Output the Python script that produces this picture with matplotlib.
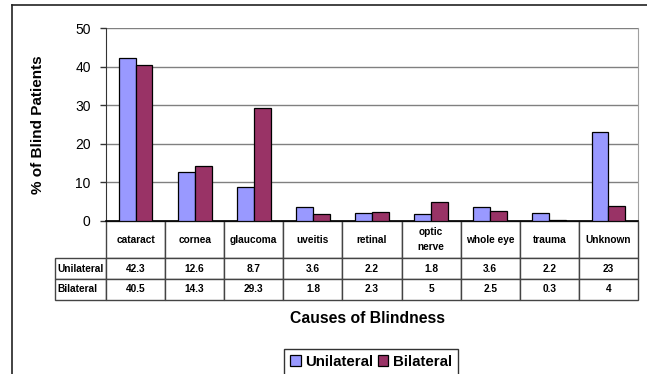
import numpy as np
import matplotlib
matplotlib.use('Agg')
import matplotlib.pyplot as plt
from matplotlib.table import Table
from matplotlib.lines import Line2D

plt.rcParams['font.family'] = ['Liberation Sans', 'DejaVu Sans']

# data
causes = ['cataract', 'cornea', 'glaucoma', 'uveitis', 'retinal',
          'optic\nnerve', 'whole eye', 'trauma', 'Unknown']
unilateral = [42.3, 12.6, 8.7, 3.6, 2.2, 1.8, 3.6, 2.2, 23]
bilateral = [40.5, 14.3, 29.3, 1.8, 2.3, 5, 2.5, 0.3, 4]
series_names = ['Unilateral', 'Bilateral']
yticks = [0, 10, 20, 30, 40, 50]

c_uni = '#9999ff'
c_bi = '#993366'

W, H = 647, 374
AW, AH = 532, 193
fig = plt.figure(figsize=(W/100, H/100), dpi=100)
ax = fig.add_axes([106/W, 1-221/H, AW/W, AH/H])

x = np.arange(len(causes))
w = 0.285
b1 = ax.bar(x - w/2, unilateral, w, color=c_uni, edgecolor='black', linewidth=0.9, zorder=3)
b2 = ax.bar(x + w/2, bilateral, w, color=c_bi, edgecolor='black', linewidth=0.9, zorder=3)

ax.set_xlim(-0.5, len(causes) - 0.5)
ax.set_ylim(0, 50)
ax.set_yticks(yticks)
ax.set_xticks([])
ax.tick_params(axis='y', length=4, width=1, pad=7, labelsize=10, color='#333333')
ax.yaxis.grid(True, color='#808080', linewidth=1, zorder=0)
ax.spines['top'].set_visible(False)
ax.spines['right'].set_color('#a0a0a0')
ax.spines['left'].set_color('#333333')
ax.spines['bottom'].set_color('black')
ax.spines['bottom'].set_linewidth(1.2)

ax.set_ylabel('% of Blind Patients', fontsize=11, fontweight='bold')
ax.yaxis.set_label_coords((45-106)/AW, 0.5)

# data table under the axis (sizes in axes units)
tab = Table(ax, bbox=[0, -79/AH, 1, 79/AH])
cw = 1/len(causes)
edge = '#444444'
for j, name in enumerate(causes):
    c = tab.add_cell(0, j, width=cw, height=37/AH, text=name, loc='center', edgecolor=edge)
    c.get_text().set_fontweight('bold')
    c.get_text().set_linespacing(1.6)
rows = [unilateral, bilateral]
for i, vals in enumerate(rows):
    c = tab.add_cell(i+1, -1, width=51/AW, height=21/AH, text=series_names[i], loc='left', edgecolor=edge)
    c.get_text().set_fontweight('bold')
    c.PAD = 0.05
    for j, v in enumerate(vals):
        c = tab.add_cell(i+1, j, width=cw, height=21/AH, text='%g' % v, loc='center', edgecolor=edge)
        c.get_text().set_fontweight('bold')
tab.auto_set_font_size(False)
tab.set_fontsize(7.3)
ax.add_table(tab)

ax.set_xlabel('Causes of Blindness', fontsize=11.3, fontweight='bold')
ax.xaxis.set_label_coords((367-106)/AW, (221-311)/AH)

leg = fig.legend([b1, b2], series_names, loc='upper center', ncol=2,
                 bbox_to_anchor=(371/W, 1-341/H), frameon=True, fancybox=False,
                 edgecolor='black', handlelength=0.7, handleheight=0.7,
                 handletextpad=0.3, columnspacing=0.3, borderpad=0.4,
                 prop={'weight': 'bold', 'size': 10.8})
leg.get_frame().set_linewidth(1)

# outer chart frame
fig.add_artist(Line2D([12/W, 1], [1-5/H, 1-5/H], color='#222222', linewidth=1.2))
fig.add_artist(Line2D([12/W, 12/W], [0, 1-5/H], color='#222222', linewidth=1.2))

fig.savefig('out.png', dpi=100)
